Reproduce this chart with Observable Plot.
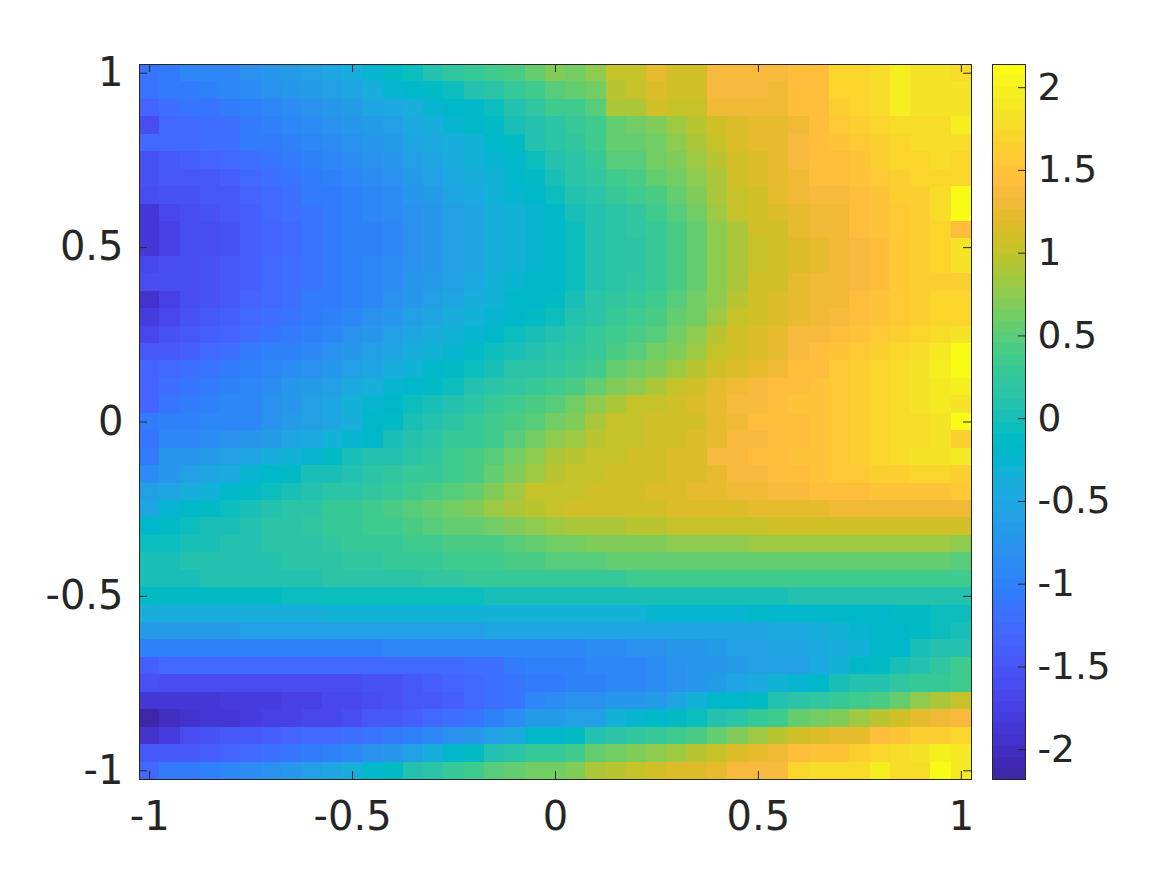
<!DOCTYPE html>
<html><head><meta charset="utf-8">
<script src="https://cdn.jsdelivr.net/npm/d3@7"></script>
<script src="https://cdn.jsdelivr.net/npm/@observablehq/plot@0.6"></script>
<style>html,body{margin:0;padding:0;background:#fff}#c{position:relative;width:1167px;height:875px;overflow:hidden}</style>
</head><body><div id="c"></div>
<script>
const xs = d3.range(41).map(i => Math.round((i*0.05-1)*100)/100);
const ys = d3.range(41).map(i => Math.round((1-i*0.05)*100)/100);
const xTicks = [-1,-0.5,0,0.5,1];
const yTicks = [-1,-0.5,0,0.5,1];
const cbTicks = [-2,-1.5,-1,-0.5,0,0.5,1,1.5,2];
const zMin = -2.18, zMax = 2.14;
const z = [
[-1.15,-1.05,-.95,-.92,-.9,-.8,-.72,-.68,-.6,-.5,-.4,-.25,-.15,-.05,.08,.2,.28,.38,.45,.55,.68,.65,.75,1.0,1.03,1.2,1.08,1.1,1.35,1.35,1.35,1.35,1.42,1.42,1.72,1.72,1.8,2.0,1.85,1.85,1.8],
[-1.15,-1.1,-1.05,-1,-.95,-.88,-.82,-.75,-.68,-.58,-.5,-.4,-.28,-.18,-.12,-.05,.05,.12,.25,.38,.5,.55,.65,.98,1.0,1.18,1.08,1.1,1.35,1.35,1.35,1.32,1.42,1.42,1.7,1.72,1.8,2.0,1.85,1.85,1.82],
[-1.35,-1.2,-1.15,-1.12,-1.1,-1.0,-.95,-.88,-.8,-.72,-.65,-.55,-.48,-.38,-.28,-.2,-.18,-.05,.08,.2,.32,.38,.5,.9,.92,1.1,1.02,1.05,1.3,1.32,1.32,1.32,1.42,1.42,1.65,1.7,1.78,1.98,1.85,1.85,1.85],
[-1.6,-1.3,-1.25,-1.2,-1.18,-1.1,-1.02,-.95,-.88,-.8,-.72,-.65,-.58,-.48,-.38,-.28,-.2,-.12,0,.1,.18,.25,.35,.55,.62,.7,.82,.98,1.1,1.15,1.2,1.25,1.32,1.4,1.55,1.65,1.72,1.78,1.8,1.8,2.0],
[-1.25,-1.25,-1.25,-1.2,-1.18,-1.1,-1.05,-1,-.95,-.85,-.78,-.72,-.65,-.55,-.45,-.38,-.3,-.2,-.1,.05,.15,.22,.32,.52,.55,.65,.75,.88,1.05,1.14,1.2,1.26,1.34,1.42,1.5,1.58,1.65,1.72,1.75,1.78,1.75],
[-1.55,-1.45,-1.4,-1.35,-1.3,-1.2,-1.12,-1.05,-1.0,-.92,-.85,-.78,-.72,-.62,-.52,-.42,-.35,-.28,-.18,-.08,.05,.18,.28,.46,.48,.6,.7,.82,.98,1.12,1.18,1.25,1.35,1.42,1.45,1.52,1.6,1.68,1.72,1.75,1.72],
[-1.55,-1.5,-1.5,-1.45,-1.4,-1.3,-1.2,-1.12,-1.05,-1.0,-.92,-.85,-.78,-.68,-.58,-.48,-.4,-.32,-.22,-.15,-.02,.12,.22,.36,.4,.52,.62,.75,.92,1.08,1.16,1.22,1.3,1.4,1.4,1.48,1.55,1.62,1.68,1.72,1.72],
[-1.6,-1.55,-1.55,-1.5,-1.45,-1.35,-1.25,-1.18,-1.1,-1.05,-1.0,-.92,-.85,-.75,-.65,-.55,-.45,-.35,-.25,-.2,-.08,.06,.15,.3,.32,.42,.55,.7,.88,1.05,1.12,1.2,1.28,1.35,1.35,1.45,1.52,1.6,1.65,1.75,2.08],
[-1.85,-1.7,-1.6,-1.55,-1.5,-1.4,-1.3,-1.22,-1.15,-1.08,-1.0,-.95,-.88,-.8,-.7,-.6,-.5,-.4,-.3,-.25,-.18,-.02,.08,.18,.22,.35,.48,.62,.8,1.0,1.1,1.15,1.22,1.3,1.32,1.42,1.5,1.58,1.65,1.78,2.08],
[-1.88,-1.72,-1.62,-1.58,-1.52,-1.42,-1.32,-1.25,-1.15,-1.08,-1.02,-.98,-.9,-.82,-.72,-.62,-.52,-.4,-.32,-.25,-.2,-.03,.07,.16,.2,.3,.42,.55,.78,.92,1.08,1.12,1.2,1.28,1.3,1.4,1.48,1.55,1.62,1.68,1.4],
[-1.88,-1.72,-1.62,-1.58,-1.52,-1.42,-1.32,-1.25,-1.15,-1.08,-1.02,-.98,-.9,-.82,-.72,-.62,-.5,-.4,-.32,-.25,-.2,-.05,.05,.14,.18,.28,.4,.52,.76,.9,1.05,1.1,1.18,1.25,1.3,1.38,1.45,1.55,1.62,1.72,1.85],
[-1.65,-1.6,-1.58,-1.55,-1.5,-1.4,-1.3,-1.22,-1.15,-1.08,-1.02,-.95,-.88,-.8,-.7,-.6,-.5,-.4,-.32,-.25,-.2,-.05,.05,.14,.18,.28,.42,.55,.76,.9,1.05,1.1,1.18,1.25,1.3,1.38,1.45,1.55,1.62,1.68,1.82],
[-1.62,-1.6,-1.58,-1.55,-1.48,-1.38,-1.28,-1.2,-1.12,-1.05,-1.0,-.92,-.85,-.75,-.68,-.58,-.45,-.35,-.28,-.22,-.18,-.03,.07,.16,.2,.3,.42,.55,.76,.92,1.08,1.12,1.2,1.28,1.3,1.38,1.45,1.55,1.6,1.65,1.65],
[-1.92,-1.72,-1.6,-1.55,-1.48,-1.35,-1.25,-1.18,-1.1,-1.05,-1.0,-.9,-.82,-.7,-.6,-.5,-.38,-.3,-.22,-.18,-.12,.04,.12,.2,.25,.35,.48,.6,.78,.98,1.1,1.15,1.22,1.28,1.3,1.4,1.48,1.55,1.6,1.68,1.68],
[-1.82,-1.65,-1.55,-1.5,-1.42,-1.3,-1.2,-1.12,-1.05,-1.0,-.92,-.82,-.72,-.62,-.5,-.42,-.32,-.25,-.2,-.12,-.05,.08,.16,.28,.32,.42,.52,.65,.85,1.02,1.12,1.18,1.25,1.32,1.35,1.42,1.5,1.58,1.62,1.7,1.68],
[-1.7,-1.55,-1.5,-1.42,-1.35,-1.22,-1.12,-1.05,-1.0,-.92,-.82,-.72,-.62,-.52,-.42,-.32,-.25,-.18,-.08,0,.05,.15,.26,.38,.4,.5,.62,.78,.98,1.1,1.18,1.25,1.35,1.38,1.42,1.48,1.55,1.62,1.7,1.78,1.82],
[-1.48,-1.45,-1.38,-1.3,-1.22,-1.1,-1.02,-.98,-.9,-.82,-.72,-.62,-.52,-.42,-.32,-.25,-.15,-.08,0,.08,.15,.22,.3,.42,.5,.6,.7,.85,1.0,1.1,1.15,1.25,1.35,1.4,1.5,1.55,1.62,1.7,1.75,1.9,2.1],
[-1.35,-1.28,-1.22,-1.15,-1.05,-1.0,-.92,-.85,-.78,-.7,-.6,-.5,-.4,-.3,-.22,-.15,-.05,.03,.12,.18,.22,.28,.38,.52,.62,.72,.82,.98,1.08,1.15,1.25,1.32,1.4,1.45,1.55,1.62,1.68,1.75,1.82,1.95,2.13],
[-1.35,-1.22,-1.15,-1.05,-1.0,-.92,-.85,-.75,-.68,-.58,-.48,-.38,-.28,-.2,-.12,-.03,.05,.12,.2,.28,.35,.4,.52,.68,.78,.88,1.0,1.08,1.2,1.28,1.35,1.4,1.45,1.5,1.58,1.65,1.72,1.78,1.85,1.92,1.95],
[-1.35,-1.15,-1.1,-1.0,-.95,-.9,-.82,-.72,-.62,-.5,-.35,-.25,-.18,-.08,0,.08,.18,.25,.32,.42,.5,.62,.75,.88,1.0,1.05,1.08,1.15,1.25,1.35,1.38,1.42,1.48,1.52,1.58,1.62,1.7,1.75,1.82,1.88,1.85],
[-1.1,-1.0,-1,-.95,-.9,-.9,-.78,-.68,-.6,-.5,-.4,-.2,-.15,-.02,.08,.18,.25,.33,.4,.5,.6,.7,.9,1.0,1.05,1.1,1.1,1.12,1.2,1.32,1.4,1.42,1.45,1.5,1.55,1.62,1.7,1.75,1.8,1.85,2.08],
[-1.15,-.95,-.92,-.88,-.8,-.72,-.65,-.55,-.45,-.3,-.25,-.2,-.02,.05,.15,.25,.3,.38,.48,.6,.75,.85,.95,1.0,1.05,1.1,1.12,1.15,1.22,1.35,1.38,1.42,1.45,1.5,1.55,1.6,1.7,1.75,1.8,1.82,1.62],
[-1.1,-.75,-.72,-.68,-.6,-.55,-.42,-.35,-.25,-.1,0,.05,.1,.15,.22,.32,.42,.5,.65,.75,.9,.95,1.0,1.05,1.1,1.12,1.15,1.18,1.35,1.38,1.42,1.45,1.48,1.52,1.58,1.65,1.72,1.78,1.82,1.85,1.92],
[-.85,-.7,-.62,-.55,-.48,-.25,-.22,-.15,-.02,.03,.08,.15,.2,.25,.3,.38,.45,.58,.68,.8,.95,1.0,1.03,1.08,1.1,1.12,1.15,1.18,1.22,1.35,1.38,1.42,1.45,1.5,1.55,1.58,1.62,1.65,1.68,1.7,1.62],
[-.58,-.52,-.4,-.3,-.22,-.15,-.05,0,.05,.12,.18,.22,.28,.35,.42,.5,.58,.72,.85,1.0,1.0,1.05,1.08,1.12,1.12,1.15,1.18,1.2,1.22,1.3,1.32,1.35,1.38,1.4,1.42,1.45,1.48,1.5,1.5,1.52,1.55],
[-.5,-.25,-.2,-.12,-.05,.02,.08,.12,.18,.25,.3,.38,.42,.5,.58,.65,.72,.8,.88,.97,1.05,1.08,1.08,1.1,1.12,1.12,1.15,1.15,1.18,1.18,1.2,1.22,1.22,1.25,1.28,1.28,1.3,1.3,1.3,1.3,1.3],
[-.2,-.15,-.08,0,.03,.08,.12,.15,.2,.25,.3,.35,.38,.42,.48,.52,.58,.65,.7,.78,.85,.88,.9,.92,.95,.98,1.0,1.0,1.02,1.05,1.05,1.08,1.08,1.08,1.1,1.12,1.12,1.12,1.1,1.08,1.08],
[-.05,-.03,0,.03,.07,.1,.12,.15,.18,.2,.25,.28,.3,.32,.35,.4,.42,.45,.5,.55,.62,.65,.68,.7,.72,.72,.75,.75,.78,.78,.8,.8,.82,.82,.82,.82,.85,.85,.82,.8,.78],
[.02,.03,.05,.05,.08,.1,.1,.12,.15,.18,.2,.22,.25,.28,.3,.32,.35,.38,.4,.45,.5,.5,.5,.52,.52,.52,.55,.55,.55,.55,.55,.55,.58,.58,.58,.58,.58,.58,.58,.55,.5],
[0,.03,.03,.05,.05,.05,.08,.08,.1,.12,.12,.15,.18,.18,.2,.22,.25,.25,.28,.28,.3,.3,.3,.3,.32,.32,.32,.32,.33,.33,.33,.33,.35,.35,.35,.35,.35,.35,.35,.33,.33],
[-.15,-.15,-.12,-.12,-.1,-.1,-.1,-.08,-.08,-.08,-.05,-.05,-.05,-.03,-.03,-.03,-.03,-.02,-.02,-.02,-.02,-.02,0,0,0,0,.02,.02,.02,.03,.03,.03,.05,.05,.05,.05,.05,.05,.05,.08,.08],
[-.4,-.4,-.4,-.4,-.38,-.38,-.38,-.38,-.38,-.35,-.35,-.35,-.35,-.35,-.32,-.32,-.32,-.32,-.32,-.3,-.3,-.3,-.3,-.3,-.3,-.28,-.28,-.25,-.25,-.25,-.22,-.22,-.22,-.2,-.2,-.2,-.18,-.15,-.12,-.08,-.03],
[-.65,-.65,-.65,-.65,-.65,-.62,-.62,-.62,-.62,-.6,-.6,-.6,-.6,-.58,-.58,-.58,-.58,-.55,-.55,-.55,-.55,-.55,-.55,-.55,-.52,-.52,-.52,-.5,-.5,-.5,-.5,-.48,-.45,-.38,-.32,-.28,-.22,-.18,-.12,-.05,0],
[-1.02,-1.0,-1.0,-1.0,-1.0,-1.0,-1.0,-1.0,-1.0,-1.0,-.98,-.98,-.95,-.95,-.95,-.95,-.92,-.92,-.92,-.92,-.9,-.9,-.88,-.85,-.82,-.8,-.75,-.7,-.65,-.62,-.6,-.55,-.5,-.45,-.38,-.3,-.22,-.18,0,.05,.08],
[-1.42,-1.3,-1.3,-1.3,-1.3,-1.3,-1.3,-1.3,-1.3,-1.28,-1.28,-1.28,-1.28,-1.28,-1.25,-1.25,-1.22,-1.18,-1.1,-1.02,-1.0,-.98,-.95,-.95,-.9,-.85,-.8,-.75,-.72,-.65,-.62,-.6,-.58,-.45,-.3,-.2,-.12,0,.1,.22,.33],
[-1.55,-1.6,-1.62,-1.62,-1.6,-1.6,-1.6,-1.6,-1.6,-1.6,-1.58,-1.55,-1.52,-1.48,-1.42,-1.35,-1.28,-1.2,-1.12,-1.05,-1.05,-1.0,-.98,-.95,-.9,-.85,-.8,-.75,-.65,-.55,-.45,-.35,-.28,-.2,0,.05,.1,.2,.25,.3,.35],
[-1.9,-1.88,-1.88,-1.85,-1.82,-1.82,-1.8,-1.75,-1.72,-1.68,-1.65,-1.6,-1.55,-1.5,-1.48,-1.38,-1.3,-1.22,-1.15,-.95,-.85,-.8,-.78,-.75,-.7,-.65,-.55,-.3,-.22,-.18,-.15,.1,.18,.22,.3,.38,.45,.55,.75,.9,1.05],
[-2.18,-2.02,-1.95,-1.88,-1.85,-1.78,-1.75,-1.72,-1.68,-1.65,-1.58,-1.5,-1.45,-1.38,-1.3,-1.2,-1.12,-1.0,-.85,-.65,-.65,-.62,-.6,-.35,-.28,-.22,-.15,-.05,.08,.18,.28,.35,.55,.62,.7,.85,.95,1.08,1.2,1.3,1.35],
[-1.95,-1.78,-1.62,-1.55,-1.5,-1.45,-1.42,-1.35,-1.3,-1.25,-1.2,-1.15,-1.05,-1.0,-.95,-.8,-.7,-.62,-.45,-.2,-.2,-.1,.05,.12,.2,.3,.38,.45,.55,.68,.8,.95,1.08,1.15,1.2,1.25,1.42,1.5,1.6,1.65,1.72],
[-1.5,-1.5,-1.45,-1.4,-1.35,-1.3,-1.22,-1.12,-1.05,-1.0,-.9,-.82,-.72,-.58,-.4,-.18,-.1,.05,.15,.25,.3,.38,.52,.6,.7,.78,.85,.95,1.05,1.15,1.2,1.3,1.45,1.48,1.52,1.62,1.7,1.75,1.85,1.95,1.92],
[-1.25,-1.1,-1.05,-.98,-.9,-.85,-.78,-.7,-.6,-.52,-.4,-.2,-.1,.05,.18,.28,.38,.48,.55,.6,.62,.68,.9,.98,1.02,1.08,1.15,1.18,1.2,1.38,1.38,1.38,1.72,1.75,1.75,1.8,1.95,1.75,1.75,2.08,1.9]
];
const parula = [[.2422,.1504,.6603],[.2504,.1650,.7076],[.2578,.1818,.7511],[.2647,.1978,.7952],[.2706,.2147,.8364],[.2751,.2342,.8710],[.2783,.2559,.8991],[.2803,.2782,.9221],[.2813,.3006,.9414],[.2810,.3228,.9579],[.2795,.3447,.9717],[.2760,.3667,.9829],[.2699,.3892,.9906],[.2602,.4123,.9952],[.2440,.4358,.9988],[.2206,.4603,.9973],[.1963,.4847,.9892],[.1834,.5074,.9798],[.1786,.5289,.9682],[.1764,.5499,.9520],[.1687,.5703,.9359],[.1540,.5902,.9218],[.1460,.6091,.9079],[.1380,.6276,.8973],[.1248,.6459,.8883],[.1113,.6635,.8763],[.0952,.6798,.8598],[.0689,.6948,.8394],[.0297,.7082,.8163],[.0036,.7203,.7917],[.0067,.7312,.7660],[.0433,.7411,.7394],[.0964,.7500,.7120],[.1408,.7584,.6842],[.1717,.7670,.6554],[.1938,.7758,.6251],[.2161,.7843,.5923],[.2470,.7918,.5567],[.2906,.7973,.5188],[.3406,.8008,.4789],[.3909,.8029,.4354],[.4456,.8024,.3909],[.5044,.7993,.3480],[.5616,.7942,.3045],[.6174,.7876,.2612],[.6720,.7793,.2227],[.7242,.7698,.1910],[.7738,.7598,.1646],[.8203,.7498,.1535],[.8634,.7406,.1596],[.9035,.7330,.1774],[.9393,.7288,.2100],[.9728,.7298,.2394],[.9956,.7434,.2371],[.9970,.7659,.2199],[.9952,.7893,.2028],[.9892,.8136,.1885],[.9786,.8386,.1766],[.9676,.8639,.1643],[.9610,.8890,.1537],[.9597,.9135,.1423],[.9628,.9373,.1265],[.9691,.9606,.1064],[.9769,.9839,.0805]];
const parulaCss = parula.map(c => `rgb(${c.map(v => Math.round(v*255)).join(",")})`);

const halfCell = 0.025;
const cells = z.flatMap((row, j) => row.map((v, i) => ({x: xs[i], y: ys[j], v})));
const ink = "#262626";
const font = {fontFamily: "'DejaVu Sans', sans-serif", fontSize: "40px", color: ink, background: "transparent", position: "absolute", top: 0};
const fmt = d => String(d);
const colorOpts = {type: "quantize", domain: [zMin, zMax], range: parulaCss};

const frameW = 832, frameH = 715;
const main = Plot.plot({
  width: 1000, height: 875,
  marginLeft: 139, marginRight: 29, marginTop: 64, marginBottom: 96,
  style: {...font, left: 0},
  x: {domain: [-1.025, 1.025]},
  y: {domain: [-1.025, 1.025]},
  color: colorOpts,
  marks: [
    Plot.rect(cells, {x1: d => d.x - halfCell, x2: d => d.x + halfCell, y1: d => d.y - halfCell, y2: d => d.y + halfCell, fill: "v", shapeRendering: "crispEdges"}),
    Plot.axisX(xTicks, {anchor: "bottom", tickSize: 0, tickPadding: 22, tickFormat: fmt, label: null, fill: ink}),
    Plot.axisY(yTicks, {anchor: "left", tickSize: 0, tickPadding: 16, tickFormat: fmt, label: null, fill: ink}),
    Plot.ruleX(xTicks, {insetTop: frameH - 8, stroke: ink, strokeWidth: 1}),
    Plot.ruleX(xTicks, {insetBottom: frameH - 8, stroke: ink, strokeWidth: 1}),
    Plot.ruleY(yTicks, {insetRight: frameW - 8, stroke: ink, strokeWidth: 1}),
    Plot.ruleY(yTicks, {insetLeft: frameW - 8, stroke: ink, strokeWidth: 1}),
    Plot.frame({stroke: ink, strokeWidth: 1})
  ]
});

const levels = parulaCss.map((c, i) => ({
  lo: zMin + (zMax - zMin) * i / parulaCss.length,
  hi: zMin + (zMax - zMin) * (i + 1) / parulaCss.length
}));
const cbar = Plot.plot({
  width: 167, height: 875,
  marginLeft: 32, marginRight: 102, marginTop: 64, marginBottom: 96,
  style: {...font, fontSize: "37.5px", left: "960px"},
  x: {domain: [0, 1], axis: null},
  y: {domain: [zMin, zMax]},
  color: colorOpts,
  marks: [
    Plot.rect(levels, {x1: 0, x2: 1, y1: "lo", y2: "hi", fill: d => (d.lo + d.hi) / 2, shapeRendering: "crispEdges"}),
    Plot.axisY(cbTicks, {anchor: "right", tickSize: 0, tickPadding: 12, tickFormat: fmt, label: null, fill: ink}),
    Plot.ruleY(cbTicks, {insetLeft: 26, stroke: ink, strokeWidth: 1}),
    Plot.frame({stroke: ink, strokeWidth: 1})
  ]
});
document.getElementById("c").append(main, cbar);
</script></body></html>
